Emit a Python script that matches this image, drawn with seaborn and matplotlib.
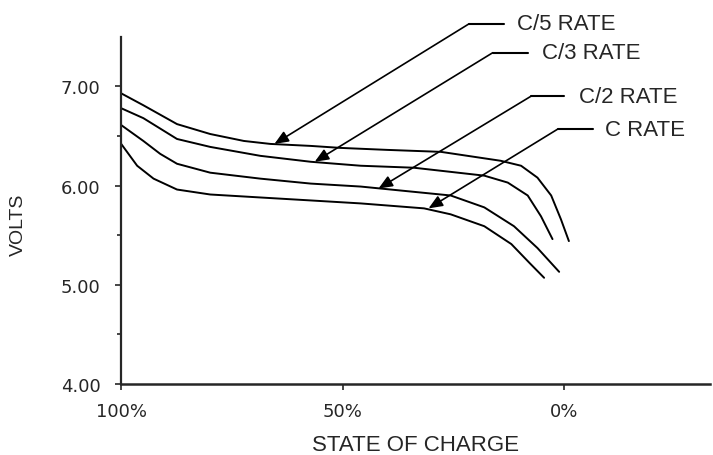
import pandas as pd
import matplotlib.pyplot as plt
import seaborn as sns

# ----------------------------------------------------------
# Data
# ----------------------------------------------------------

rates = ["C/5 RATE", "C/3 RATE", "C/2 RATE", "C RATE"]

c5_soc = [100, 95, 87.4, 79.9, 72.3, 66.3, 57.2, 50.5, 40, 27.8, 14.3, 9.7, 6.0, 2.9, 0.7, -1.1]
c5_volts = [6.93, 6.81, 6.62, 6.52, 6.45, 6.42, 6.40, 6.38, 6.36, 6.34, 6.25, 6.20, 6.08, 5.90, 5.66, 5.44]

c3_soc = [100, 95, 87.4, 79.9, 68.6, 57.2, 45.9, 33.9, 18.0, 12.7, 8.2, 5.2, 2.6]
c3_volts = [6.78, 6.68, 6.47, 6.39, 6.30, 6.24, 6.20, 6.18, 6.10, 6.03, 5.90, 5.69, 5.46]

c2_soc = [100, 95, 91.2, 87.4, 79.9, 68.6, 57.2, 45.9, 41.4, 25.6, 18.0, 11.3, 6.0, 1.1]
c2_volts = [6.61, 6.45, 6.32, 6.22, 6.13, 6.07, 6.02, 5.99, 5.97, 5.90, 5.78, 5.59, 5.37, 5.13]

c1_soc = [100, 96.4, 92.7, 87.4, 79.9, 68.6, 57.2, 45.9, 31.6, 25.6, 18.0, 11.9, 7.8, 4.5]
c1_volts = [6.42, 6.20, 6.07, 5.96, 5.91, 5.88, 5.85, 5.82, 5.77, 5.71, 5.59, 5.41, 5.22, 5.07]

# callouts: arrow tip on curve, elbow of leader, end of leader, text x
tip_x = [65.4, 56.3, 41.9, 30.6]
tip_y = [6.42, 6.24, 5.97, 5.77]
elbow_x = [21.5, 16.1, 7.5, 1.4]
elbow_y = [7.63, 7.34, 6.90, 6.57]
leader_end_x = [13.6, 8.1, 0.0, -6.6]
text_x = [10.6, 4.9, -3.3, -9.2]

df = pd.concat([
    pd.DataFrame({"soc": c5_soc, "volts": c5_volts, "rate": rates[0]}),
    pd.DataFrame({"soc": c3_soc, "volts": c3_volts, "rate": rates[1]}),
    pd.DataFrame({"soc": c2_soc, "volts": c2_volts, "rate": rates[2]}),
    pd.DataFrame({"soc": c1_soc, "volts": c1_volts, "rate": rates[3]}),
])

# ----------------------------------------------------------
# Plot
# ----------------------------------------------------------

sns.set_style("ticks")
plt.rcParams["font.family"] = ["Liberation Sans", "DejaVu Sans"]

fig = plt.figure(figsize=(7.13, 4.56), dpi=100)
ax = fig.add_axes([0.170, 0.156, 0.826, 0.761])

sns.lineplot(
    data=df, x="soc", y="volts", hue="rate",
    palette=["black"] * 4, estimator=None, sort=False,
    linewidth=1.4, legend=False, ax=ax
)

for i in range(len(rates)):
    ax.plot([elbow_x[i], leader_end_x[i]], [elbow_y[i], elbow_y[i]],
            color="black", lw=1.5, clip_on=False)
    ax.annotate(
        "", xy=(tip_x[i], tip_y[i]), xytext=(elbow_x[i], elbow_y[i]),
        arrowprops=dict(arrowstyle="-|>,head_length=0.6,head_width=0.25",
                        color="black", lw=1.2,
                        mutation_scale=14, shrinkA=0, shrinkB=0),
        annotation_clip=False
    )
    ax.text(text_x[i], elbow_y[i], rates[i], fontsize=16,
            va="center", ha="left", clip_on=False)

ax.set_xlim(100, -33)
ax.set_ylim(4.0, 7.5)
ax.set_xticks([100, 50, 0])
ax.set_xticklabels(["100%", "50%", "0%"], family="DejaVu Sans")
ax.set_yticks([4, 5, 6, 7])
ax.set_yticklabels(["4.00", "5.00", "6.00", "7.00"], family="DejaVu Sans")
ax.set_yticks([4.5, 5.5, 6.5], minor=True)
ax.tick_params(axis="both", labelsize=13, width=1.2, length=4)
ax.tick_params(axis="y", which="minor", width=1.2, length=3)
ax.tick_params(axis="y", pad=11)
ax.tick_params(axis="x", pad=9)

ax.set_xlabel("STATE OF CHARGE", fontsize=16)
ax.set_ylabel("VOLTS", fontsize=14)
ax.xaxis.set_label_coords(0.5, -0.145)
ax.yaxis.set_label_coords(-0.16, 0.46)

sns.despine(ax=ax)
ax.spines["left"].set_linewidth(1.6)
ax.spines["bottom"].set_linewidth(1.8)

fig.savefig("out.png", dpi=100)
